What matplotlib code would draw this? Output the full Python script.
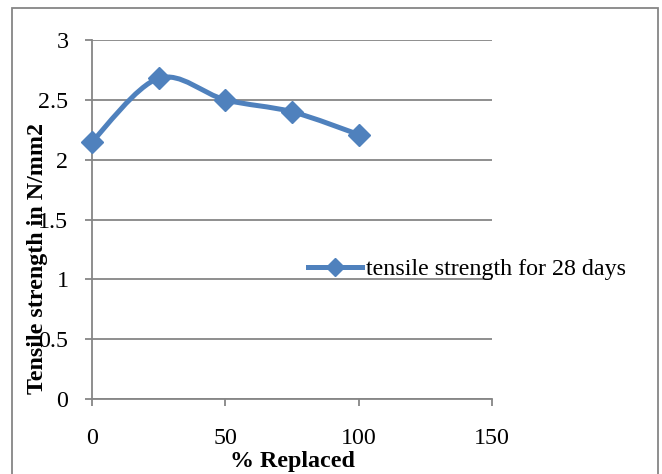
import numpy as np
import matplotlib
matplotlib.use("Agg")
import matplotlib.pyplot as plt
from matplotlib.patches import Rectangle
from matplotlib.path import Path
from matplotlib.patches import PathPatch

replaced = [0, 25, 50, 75, 100]
strength = [2.15, 2.68, 2.50, 2.40, 2.21]
series_label = "tensile strength for 28 days"
x_ticks = [0, 50, 100, 150]
y_ticks = [0, 0.5, 1, 1.5, 2, 2.5, 3]
y_tick_labels = ["0", "0.5", "1", "1.5", "2", "2.5", "3"]

plt.rcParams['font.family'] = ['Liberation Serif', 'DejaVu Serif']

W, H = 662, 474
fig = plt.figure(figsize=(W/100, H/100), dpi=100)
ax = fig.add_axes([92/W, 1-399/H, 400/W, 359/H])

blue = '#4F81BD'
grid = '#868686'
FS = 17.3

# Excel-like smoothed line (Catmull-Rom Bezier)
xs = np.array(replaced, float)
ys = np.array(strength, float)
verts = [(xs[0], ys[0])]
codes = [Path.MOVETO]
n = len(xs)
for i in range(n-1):
    p0 = (xs[max(i-1, 0)], ys[max(i-1, 0)])
    p1 = (xs[i], ys[i])
    p2 = (xs[i+1], ys[i+1])
    p3 = (xs[min(i+2, n-1)], ys[min(i+2, n-1)])
    c1 = (p1[0] + (p2[0]-p0[0])/6, p1[1] + (p2[1]-p0[1])/6)
    c2 = (p2[0] - (p3[0]-p1[0])/6, p2[1] - (p3[1]-p1[1])/6)
    verts += [c1, c2, p2]
    codes += [Path.CURVE4]*3
ax.add_patch(PathPatch(Path(verts, codes), facecolor='none', edgecolor=blue, lw=3.6, zorder=3,
                       capstyle='round', clip_on=False))
ax.plot(replaced, strength, linestyle='none', marker='D', ms=11.5, color=blue, zorder=4, clip_on=False)
ax.plot([], [], color=blue, lw=3.6, marker='D', ms=9.5, label=series_label)

ax.set_xlim(0, 150)
ax.set_ylim(0, 3)
ax.set_xticks(x_ticks)
ax.set_yticks(y_ticks)
ax.set_yticklabels(y_tick_labels)
ax.yaxis.grid(True, color=grid, lw=1.3)
ax.set_axisbelow(True)
for s in ['top', 'right']:
    ax.spines[s].set_visible(False)
for s in ['left', 'bottom']:
    ax.spines[s].set_color(grid)
    ax.spines[s].set_linewidth(1.3)
ax.tick_params(axis='both', direction='out', length=5, width=1.3, color=grid,
               labelsize=FS, labelcolor='black')
ax.tick_params(axis='y', pad=12)
ax.tick_params(axis='x', pad=16)

ax.legend(loc='center left', bbox_to_anchor=((308-92)/400, (399-269)/359), frameon=False,
          fontsize=FS, handlelength=2.25, handletextpad=0.15, borderaxespad=0, borderpad=0)

fig.text(292/W, 1-461/H, "% Replaced", ha='center', va='center', fontsize=FS, fontweight='bold')
fig.text(38/W, 1-258/H, "Tensile strength in N/mm2", ha='center', va='center', rotation=90,
         fontsize=FS, fontweight='bold')

fig.patches.append(Rectangle((12/W, -0.05), (658-12)/W, (1-8/H)+0.05, transform=fig.transFigure,
                             fill=False, edgecolor='#868686', lw=1.3))

fig.savefig('out.png', dpi=100)
